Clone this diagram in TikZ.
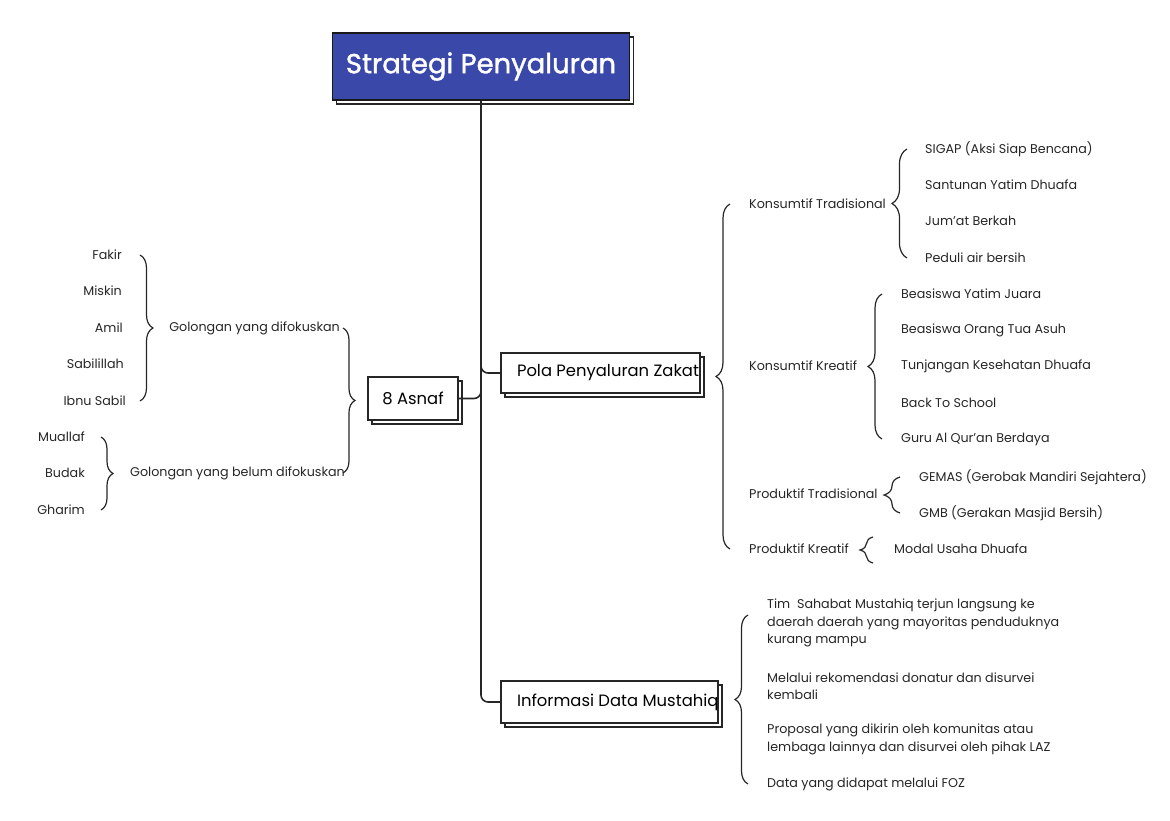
\documentclass[tikz,border=0pt]{standalone}
\usepackage{fontspec}
\setmainfont{Poppins}
\newfontfamily\titlefont[FakeBold=1.3]{Poppins}
\usetikzlibrary{decorations.pathreplacing,shadows,calc}
\definecolor{titleblue}{RGB}{58,72,170}

\begin{document}
\begin{tikzpicture}[x=1pt,y=-1pt,
  item/.style={inner sep=0pt,text=black!85,font=\fontsize{12.7}{17.5}\selectfont},
  topic/.style={draw=black!85,line width=1.3pt,fill=white,inner sep=0pt,
    general shadow={draw=black!85,fill=white,shadow xshift=4pt,shadow yshift=-4pt},
    font=\fontsize{16.4}{19}\selectfont},
  trunk/.style={draw=black!85,line width=1.6pt,rounded corners=7pt},
  curly/.style={draw=black!85,line width=1.2pt,decorate,decoration={brace,amplitude=#1}},
  curly/.default=12pt]
\useasboundingbox (0,0) rectangle (1170,821);

% main topic
\node[draw=black!90,line width=1.5pt,fill=titleblue,text=white,
  minimum width=297pt,minimum height=67pt,
  general shadow={draw=black!85,fill=white,shadow xshift=4pt,shadow yshift=-4pt},
  font=\titlefont\fontsize{27.5}{32}\selectfont] (title) at (481,66.5) {Strategi Penyaluran};

% sub topics
\node[topic,minimum width=90pt,minimum height=43pt] (asnaf) at (413,398.5) {8 Asnaf};
\node[topic,inner xsep=16pt,minimum height=40pt] (pola) at (600.5,373) {\makebox[167pt][l]{Pola Penyaluran Zakat}};
\node[topic,inner xsep=16pt,minimum height=42pt] (info) at (609.5,702) {\makebox[185pt][l]{Informasi Data Mustahiq}};

\draw[trunk] (title.south) |- (info.west);
\draw[trunk] ($(title.south |- pola.west)+(0,-10)$) |- (pola.west);
\draw[trunk] (asnaf.east) -| ($(title.south |- asnaf.east)+(0,-10)$);

% 8 asnaf
\node[item,anchor=east] (gfok) at (340,328) {Golongan yang difokuskan};
\node[item,anchor=east] (gbel) at (345,473) {Golongan yang belum difokuskan};
\draw[curly] ([xshift=-2pt]gbel.east |- gfok.east) -- ([xshift=-2pt]gbel.east);

\node[item,anchor=east] (fakir) at (122,255) {Fakir};
\node[item,anchor=east] (miskin) at (122,291) {Miskin};
\node[item,anchor=east] (amil) at (123,328) {Amil};
\node[item,anchor=east] (sabil) at (124,364) {Sabilillah};
\node[item,anchor=east] (ibnu) at (126,401) {Ibnu Sabil};
\draw[curly=13pt] ([xshift=18pt]fakir.east) -- ([xshift=18pt]fakir.east |- ibnu.east);

\node[item,anchor=east] (muallaf) at (85,437) {Muallaf};
\node[item,anchor=east] (budak) at (85,473) {Budak};
\node[item,anchor=east] (gharim) at (85,510) {Gharim};
\draw[curly] ([xshift=16pt]muallaf.east) -- ([xshift=16pt]gharim.east);

% pola penyaluran
\node[item,anchor=west] (ktrad) at (749,204) {Konsumtif Tradisional};
\node[item,anchor=west] (kkre) at (749,366) {Konsumtif Kreatif};
\node[item,anchor=west] (ptrad) at (749,494) {Produktif Tradisional};
\node[item,anchor=west] (pkre) at (749,549) {Produktif Kreatif};
\draw[curly=14pt] ([xshift=-19pt]pkre.west) -- ([xshift=-19pt]ktrad.west);

\node[item,anchor=west] (sigap) at (925,149) {SIGAP (Aksi Siap Bencana)};
\node[item,anchor=west] (santunan) at (925,185) {Santunan Yatim Dhuafa};
\node[item,anchor=west] (jumat) at (925,221) {Jum'at Berkah};
\node[item,anchor=west] (peduli) at (925,258) {Peduli air bersih};
\draw[curly=15pt] ([xshift=-18pt]peduli.west) -- ([xshift=-18pt]sigap.west);

\node[item,anchor=west] (byatim) at (901,294) {Beasiswa Yatim Juara};
\node[item,anchor=west] (bota) at (901,330) {Beasiswa Orang Tua Asuh};
\node[item,anchor=west] (tunj) at (901,366) {Tunjangan Kesehatan Dhuafa};
\node[item,anchor=west] (bts) at (901,403) {Back To School};
\node[item,anchor=west] (guru) at (901,439) {Guru Al Qur'an Berdaya};
\draw[curly=14pt] ([xshift=-19pt]guru.west) -- ([xshift=-19pt]byatim.west);

\node[item,anchor=west] (gemas) at (919,477) {GEMAS (Gerobak Mandiri Sejahtera)};
\node[item,anchor=west] (gmb) at (919,513) {GMB (Gerakan Masjid Bersih)};
\draw[curly=16pt] ([xshift=-19pt]gmb.west) -- ([xshift=-19pt]gemas.west);

\node[item,anchor=west] (modal) at (894,549) {Modal Usaha Dhuafa};
\draw[curly=13pt] ([xshift=-21pt,yshift=-14pt]modal.west) -- ([xshift=-21pt,yshift=12pt]modal.west);

% informasi data
\node[item,anchor=west,align=left] (tim) at (767,623) {Tim\ \ Sahabat Mustahiq terjun langsung ke\\daerah daerah yang mayoritas penduduknya\\kurang mampu};
\node[item,anchor=west,align=left] (melalui) at (767,686) {Melalui rekomendasi donatur dan disurvei\\kembali};
\node[item,anchor=west,align=left] (proposal) at (767,739.5) {Proposal yang dikirin oleh komunitas atau\\lembaga lainnya dan disurvei oleh pihak LAZ};
\node[item,anchor=west] (foz) at (767,784) {Data yang didapat melalui FOZ};
\draw[curly=13pt] ([xshift=-19pt]foz.west) -- ([xshift=-19pt,yshift=8pt]tim.west);
\end{tikzpicture}
\end{document}
